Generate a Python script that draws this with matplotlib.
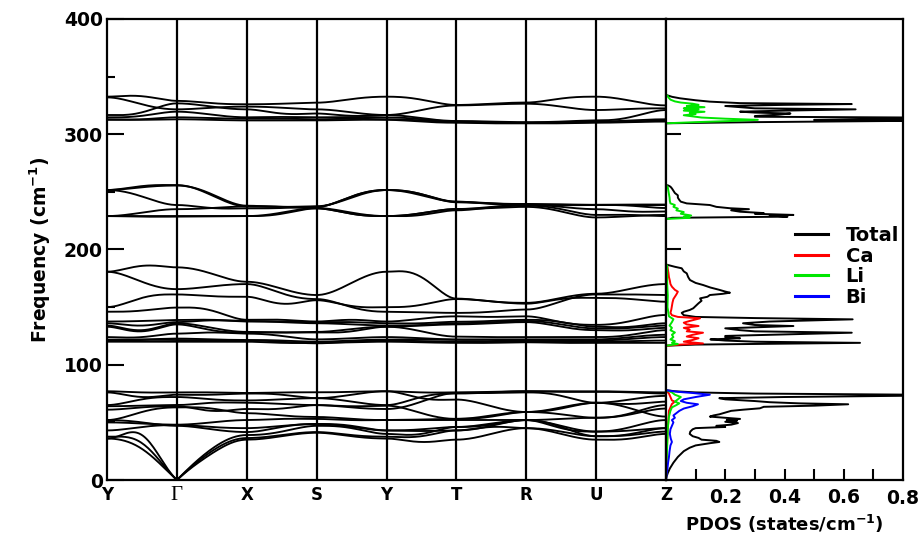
import numpy as np
import matplotlib
matplotlib.use('Agg')
import matplotlib.pyplot as plt

# ---------------- data ----------------
kpath_labels = ['Y', 'Γ', 'X', 'S', 'Y', 'T', 'R', 'U', 'Z']

# each band: values at Y, mid, Γ, mid, X, mid, S, mid, Y, mid, T, mid, R, mid, U, mid, Z
bands_top = [
    [332.6, 333.0, 329.0, 327.0, 326.0, 326.5, 327.4, 330.5, 332.6, 330.0, 325.4, 326.5, 327.5, 331.0, 332.6, 329.0, 325.0],
    [332.0, 326.0, 321.6, 323.0, 324.0, 323.0, 321.6, 319.0, 316.7, 321.0, 325.0, 325.8, 326.5, 324.0, 321.0, 322.0, 322.5],
    [316.7, 319.0, 326.8, 324.0, 321.6, 318.0, 318.0, 316.0, 316.7, 314.0, 311.5, 311.0, 310.5, 311.0, 312.0, 315.0, 321.0],
    [314.7, 316.0, 319.6, 317.0, 314.7, 315.0, 314.7, 315.0, 314.7, 313.0, 311.0, 310.5, 310.0, 310.5, 311.0, 312.0, 313.0],
    [313.0, 313.0, 314.7, 314.0, 313.5, 313.5, 313.0, 313.5, 313.0, 312.0, 310.5, 310.0, 309.8, 310.0, 310.5, 311.0, 312.0],
    [312.5, 312.5, 313.0, 312.5, 312.0, 312.0, 312.0, 312.5, 312.5, 311.0, 310.0, 309.5, 309.5, 309.5, 310.0, 310.5, 311.0],
]

bands_upper = [
    [251.6, 255.0, 255.9, 247.0, 237.4, 237.0, 237.0, 246.0, 251.6, 248.0, 241.5, 239.5, 239.0, 238.5, 238.6, 238.5, 238.6],
    [251.6, 246.0, 238.6, 236.0, 235.7, 236.0, 237.0, 246.0, 251.6, 247.0, 241.5, 240.0, 239.0, 239.0, 238.6, 238.0, 236.0],
    [229.0, 232.0, 235.0, 236.0, 237.4, 237.0, 235.7, 231.0, 229.0, 231.5, 235.1, 237.0, 239.0, 237.0, 235.0, 233.0, 233.0],
    [229.0, 229.0, 229.0, 229.0, 229.0, 231.0, 235.7, 231.0, 229.0, 231.5, 235.1, 236.0, 237.0, 233.0, 227.8, 229.0, 230.0],
    [229.0, 228.5, 228.5, 228.7, 229.0, 232.0, 236.0, 232.0, 229.0, 230.0, 234.0, 236.5, 238.0, 235.0, 230.0, 230.0, 229.0],
    [251.6, 254.0, 255.5, 248.0, 238.0, 237.0, 237.5, 245.0, 251.6, 248.0, 241.0, 240.0, 239.5, 239.0, 238.8, 239.0, 239.0],
]

bands_mid = [
    [180.7, 185.8, 184.5, 179.0, 172.0, 166.0, 160.5, 171.0, 180.7, 176.0, 157.4, 155.0, 153.7, 158.0, 161.6, 166.0, 170.0],
    [180.7, 172.0, 165.6, 168.0, 170.0, 162.0, 157.0, 150.0, 146.0, 145.5, 145.0, 146.0, 147.9, 155.0, 161.0, 161.0, 160.5],
    [150.0, 158.0, 161.0, 159.5, 159.0, 153.0, 156.0, 151.0, 150.0, 152.0, 157.0, 155.0, 153.0, 157.0, 158.0, 157.0, 154.7],
    [146.0, 147.0, 149.6, 147.0, 139.0, 139.0, 137.5, 139.0, 137.5, 140.0, 142.0, 141.5, 142.0, 137.0, 134.6, 138.0, 143.2],
    [137.5, 138.0, 138.8, 139.0, 138.0, 137.5, 137.0, 137.0, 136.0, 136.0, 137.3, 138.0, 139.0, 137.0, 133.0, 133.0, 136.0],
    [136.0, 134.0, 137.0, 138.5, 137.5, 137.0, 136.0, 135.0, 134.0, 134.5, 136.0, 137.0, 138.0, 135.0, 131.5, 132.0, 134.0],
    [134.0, 130.0, 136.0, 132.0, 128.5, 128.0, 128.5, 131.0, 133.0, 134.0, 135.0, 136.0, 137.0, 133.0, 130.0, 130.0, 132.0],
    [133.0, 129.0, 135.0, 130.0, 128.0, 128.0, 128.0, 129.0, 133.0, 129.0, 124.4, 124.0, 124.0, 124.0, 124.0, 126.0, 130.0],
    [124.0, 124.0, 127.0, 128.0, 127.0, 125.0, 122.0, 123.0, 124.0, 123.0, 122.0, 122.0, 122.0, 122.0, 122.0, 124.0, 126.0],
    [121.8, 122.0, 122.7, 122.0, 121.5, 121.0, 120.0, 121.0, 121.8, 122.0, 121.5, 121.5, 121.0, 121.0, 121.0, 122.5, 124.0],
    [121.0, 121.5, 121.5, 121.0, 121.0, 120.0, 118.6, 120.0, 121.0, 120.5, 120.0, 120.0, 120.0, 120.0, 120.0, 120.5, 121.0],
    [120.0, 120.0, 120.0, 120.0, 120.0, 119.0, 119.0, 119.5, 120.0, 119.5, 119.0, 119.0, 119.5, 119.0, 119.0, 119.0, 119.0],
]

bands_low = [
    [77.0, 76.0, 76.0, 76.0, 75.5, 76.0, 76.0, 76.5, 77.0, 76.0, 76.0, 76.5, 77.0, 77.0, 77.0, 76.5, 76.0],
    [76.0, 72.0, 74.0, 74.0, 75.0, 74.0, 71.0, 68.0, 65.0, 72.0, 75.0, 76.0, 77.0, 76.5, 76.5, 76.0, 75.0],
    [65.0, 70.0, 72.0, 70.0, 69.0, 70.0, 71.0, 74.0, 77.0, 71.0, 69.8, 64.0, 59.0, 63.0, 67.0, 70.0, 73.0],
    [64.0, 64.5, 65.0, 67.0, 67.0, 66.0, 65.0, 63.0, 61.6, 68.0, 75.5, 75.5, 76.0, 73.0, 67.0, 66.0, 68.0],
    [61.0, 63.0, 64.0, 60.0, 61.6, 62.0, 65.0, 64.0, 64.5, 58.0, 53.0, 56.0, 59.0, 57.0, 54.0, 58.0, 65.0],
    [52.0, 59.0, 63.0, 62.0, 58.0, 56.0, 54.7, 53.0, 52.0, 52.0, 52.0, 52.0, 52.0, 53.0, 54.0, 57.0, 62.0],
    [50.0, 49.0, 48.0, 50.0, 52.0, 53.0, 53.0, 52.0, 52.0, 52.5, 53.0, 55.0, 59.0, 62.0, 67.0, 62.0, 55.0],
    [43.0, 46.0, 47.7, 46.0, 45.0, 47.0, 48.6, 46.0, 43.0, 44.0, 46.0, 49.0, 52.0, 47.0, 42.0, 46.0, 52.0],
    [52.0, 50.0, 47.0, 44.0, 41.6, 46.0, 48.6, 47.0, 43.0, 42.5, 43.0, 47.0, 52.0, 46.0, 38.0, 40.0, 45.0],
    [37.6, 32.0, 0.0, 25.0, 36.4, 39.0, 41.6, 39.0, 37.6, 38.0, 43.0, 46.0, 45.0, 42.0, 38.0, 39.0, 42.0],
    [36.0, 27.0, 0.0, 23.0, 35.0, 38.0, 41.0, 38.0, 36.0, 33.0, 35.0, 40.0, 45.0, 40.0, 35.0, 36.0, 40.0],
    [36.0, 39.0, 0.0, 27.0, 39.0, 42.0, 47.0, 45.0, 40.0, 40.0, 46.0, 48.0, 52.0, 45.0, 42.0, 43.0, 45.0],
]

# PDOS (frequency in cm^-1, value in states/cm^-1)
total_freq = [0, 3, 6, 10, 15, 20, 25, 28, 30, 32, 33, 34, 35, 36.5, 38, 40, 42, 44, 45, 46, 47, 48, 49.4,
              50.5, 51.5, 52, 53, 54, 55, 56, 57, 58.5, 60, 61, 62.2, 63.5, 64.5, 65.7, 66.5, 67.5, 68.5, 70,
              71, 72, 73.2, 74, 75, 76, 77, 78,
              116.5, 117.5, 119, 120, 121, 122, 123, 124, 125, 126, 127.8, 129, 130, 131.6, 132.5, 133.6,
              134.5, 136, 137.5, 139.4, 140.5, 141.5, 143, 145, 146, 147.5, 149, 151, 153.4, 155.5, 157.6,
              159, 160.5, 161.5, 162.5, 163.5, 165, 167, 169.2, 171, 173.5, 176, 179.3, 181, 183.7, 185,
              186.6, 187,
              226.5, 227.5, 228.5, 229.5, 230, 231, 231.6, 232.8, 234, 235, 235.8, 237, 238.6, 240, 241.5,
              243, 245, 247, 249, 251, 253, 254.5, 255.5, 256,
              309.5, 310.5, 311.7, 312.5, 313.8, 314.5, 315.2, 315.8, 317, 318, 318.8, 319.6, 320.5, 321.6,
              322.5, 323.5, 324.5, 325.5, 326.2, 327, 328.3, 329.5, 331.2, 332.5, 333.5, 334, 400]
total_dos = [0, 0.002, 0.006, 0.013, 0.025, 0.04, 0.06, 0.08, 0.1, 0.15, 0.18, 0.17, 0.12, 0.11, 0.09, 0.08,
             0.082, 0.09, 0.1, 0.2, 0.17, 0.22, 0.243, 0.2, 0.24, 0.205, 0.25, 0.2, 0.148, 0.16, 0.18, 0.2,
             0.22, 0.26, 0.317, 0.33, 0.5, 0.615, 0.45, 0.35, 0.3, 0.2, 0.18, 0.4, 0.85, 0.85, 0.3, 0.1,
             0.03, 0,
             0, 0.1, 0.655, 0.3, 0.2, 0.15, 0.25, 0.2, 0.2, 0.35, 0.627, 0.3, 0.25, 0.2, 0.3, 0.43, 0.3,
             0.26, 0.35, 0.63, 0.3, 0.1, 0.06, 0.053, 0.06, 0.08, 0.092, 0.1, 0.11, 0.12, 0.115, 0.14,
             0.148, 0.19, 0.216, 0.2, 0.18, 0.15, 0.125, 0.1, 0.081, 0.075, 0.07, 0.06, 0.053, 0.03,
             0.007, 0,
             0, 0.02, 0.41, 0.35, 0.43, 0.3, 0.33, 0.25, 0.22, 0.28, 0.216, 0.17, 0.148, 0.07, 0.05,
             0.045, 0.04, 0.04, 0.03, 0.025, 0.02, 0.015, 0.008, 0,
             0, 0.3, 0.85, 0.5, 0.85, 0.85, 0.3, 0.3, 0.38, 0.42, 0.3, 0.25, 0.4, 0.64, 0.3, 0.25, 0.2,
             0.4, 0.627, 0.25, 0.148, 0.1, 0.047, 0.02, 0.008, 0, 0]

ca_freq = [0, 20, 40, 60, 66, 68, 69, 72, 75, 78,
           116.5, 117.5, 118.5, 120, 121.5, 123, 124.5, 126, 127.8, 129, 130.5, 132, 133.6, 135, 136.5,
           138, 140.3, 141.5, 143, 145, 148, 151, 154, 157, 159, 161, 163.4, 165, 167.7, 170, 173, 176,
           180, 183, 185, 187, 400]
ca_dos = [0, 0.002, 0.005, 0.01, 0.02, 0.03, 0.02, 0.015, 0.01, 0,
          0, 0.05, 0.125, 0.06, 0.09, 0.11, 0.07, 0.09, 0.125, 0.07, 0.08, 0.06, 0.11, 0.07, 0.06,
          0.08, 0.115, 0.04, 0.02, 0.015, 0.018, 0.02, 0.022, 0.025, 0.03, 0.035, 0.04, 0.03, 0.02,
          0.015, 0.013, 0.01, 0.008, 0.006, 0.005, 0, 0]

li_freq = [0, 30, 45, 55, 60, 63, 65, 66.5, 68, 70, 72, 74, 76, 78,
           116.5, 118, 119, 120.5, 122, 124, 126, 128, 130, 132, 134, 137, 139.5, 142, 150, 160, 170,
           186, 187,
           226.5, 227.5, 228.5, 229.5, 231, 232.5, 234, 235.5, 237, 238.6, 240, 242, 245, 248, 251,
           254, 256,
           309.5, 310.5, 311.5, 312.5, 313.5, 314.5, 315.5, 316.5, 317.5, 318.5, 319.5, 320.5, 321.6,
           322.5, 323.5, 324.5, 325.5, 326.5, 327.5, 328.5, 330, 332, 333.5, 334, 400]
li_dos = [0, 0.004, 0.006, 0.01, 0.015, 0.02, 0.035, 0.045, 0.03, 0.04, 0.05, 0.03, 0.02, 0,
          0, 0.04, 0.02, 0.03, 0.015, 0.025, 0.02, 0.03, 0.015, 0.02, 0.012, 0.02, 0.025, 0.01, 0.005,
          0.006, 0.004, 0.004, 0,
          0, 0.08, 0.06, 0.085, 0.05, 0.06, 0.035, 0.04, 0.025, 0.03, 0.015, 0.013, 0.012, 0.01,
          0.008, 0.006, 0,
          0, 0.1, 0.22, 0.31, 0.2, 0.12, 0.09, 0.06, 0.1, 0.08, 0.13, 0.06, 0.11, 0.06, 0.13, 0.07,
          0.11, 0.09, 0.05, 0.03, 0.015, 0.008, 0.005, 0, 0]

bi_freq = [0, 5, 10, 15, 20, 25, 30, 33, 36, 40, 44, 47, 50, 52, 54, 56, 58, 60, 62, 64, 65.7, 67,
           68.5, 70, 72, 74, 75.5, 76.5, 77.5, 78, 400]
bi_dos = [0, 0.002, 0.005, 0.007, 0.01, 0.012, 0.015, 0.02, 0.016, 0.013, 0.015, 0.02, 0.025, 0.02,
          0.03, 0.025, 0.035, 0.045, 0.06, 0.09, 0.108, 0.07, 0.05, 0.06, 0.1, 0.148, 0.09, 0.04,
          0.01, 0, 0]

legend_labels = ['Total', 'Ca', 'Li', 'Bi']
dos_colors = ['black', '#ff0000', '#00e600', '#0000ff']


# ---------------- drawing helpers ----------------
def band_curve(vals, n=40):
    xs, ys = [], []
    for seg in range(8):
        a, m, b = vals[2 * seg], vals[2 * seg + 1], vals[2 * seg + 2]
        t = np.linspace(0, 1, n)
        if b == 0 and a != 0:      # acoustic branch ending at Gamma
            s = 1 - t
            y = a * np.sin(np.pi * s / 2) + (m - a * np.sin(np.pi / 4)) * np.sin(np.pi * s) ** 2
        elif a == 0 and b != 0:    # acoustic branch starting at Gamma
            s = t
            y = b * np.sin(np.pi * s / 2) + (m - b * np.sin(np.pi / 4)) * np.sin(np.pi * s) ** 2
        else:
            y = a + (b - a) * (3 * t ** 2 - 2 * t ** 3) + 16 * (m - (a + b) / 2) * t ** 2 * (1 - t) ** 2
        xs.append(seg + t)
        ys.append(y)
    return np.concatenate(xs), np.concatenate(ys)


# ---------------- figure ----------------
W, H = 923, 535
fig = plt.figure(figsize=(W / 100, H / 100), dpi=100)
font = 'DejaVu Sans'
plt.rcParams['font.family'] = font

x0, x1, x2 = 107 / W, 666 / W, 903 / W
yb, yt = 1 - 480 / H, 1 - 19 / H
ax = fig.add_axes([x0, yb, x1 - x0, yt - yb])
ax2 = fig.add_axes([x1, yb, x2 - x1, yt - yb])

for group in (bands_low, bands_mid, bands_upper, bands_top):
    for band in group:
        bx, by = band_curve(band)
        ax.plot(bx, by, color='black', lw=1.35, solid_capstyle='round')

for k in range(1, 8):
    ax.axvline(k, color='black', lw=1.6)

ax.set_xlim(0, 8)
ax.set_ylim(0, 400)
ax.set_xticks(range(9))
ax.set_xticklabels(kpath_labels)
for i, lab in enumerate(ax.get_xticklabels()):
    if kpath_labels[i] == 'Γ':
        lab.set_fontfamily('Liberation Serif')
        lab.set_fontweight('normal')
        lab.set_fontsize(15)
    else:
        lab.set_fontweight('bold')
        lab.set_fontsize(12)
ax.tick_params(axis='x', length=0, pad=4)
ax.set_yticks([0, 100, 200, 300, 400])
ax.set_yticks([50, 150, 250, 350], minor=True)
ax.tick_params(axis='y', which='major', direction='in', length=12, width=1.5, labelsize=13.5, pad=3)
ax.tick_params(axis='y', which='minor', direction='in', length=6, width=1.5)
for lab in ax.get_yticklabels():
    lab.set_fontweight('bold')
ax.set_ylabel('Frequency (cm$^{\\mathbf{-1}}$)', fontsize=13.5, fontweight='bold', labelpad=8)
for sp in ax.spines.values():
    sp.set_linewidth(1.6)

# PDOS panel
series = [(total_freq, total_dos), (ca_freq, ca_dos), (li_freq, li_dos), (bi_freq, bi_dos)]
handles = []
for (fq, dv), col, lab in zip(series, dos_colors, legend_labels):
    h, = ax2.plot(dv, fq, color=col, lw=1.4, label=lab)
    handles.append(h)

ax2.set_xlim(0, 0.8)
ax2.set_ylim(0, 400)
ax2.set_yticks([100, 200, 300])
ax2.set_yticklabels([])
ax2.tick_params(axis='y', direction='in', length=11, width=1.5)
ax2.set_xticks([0.1, 0.2, 0.3, 0.4, 0.5, 0.6, 0.7])
ax2.set_xticklabels(['', '0.2', '', '0.4', '', '0.6', ''])
ax2.tick_params(axis='x', direction='in', length=8, width=1.5, labelsize=13.5, pad=6)
for lab in ax2.get_xticklabels():
    lab.set_fontweight('bold')
ax2.text(0.8, -0.02, '0.8', transform=ax2.get_xaxis_transform(), ha='center', va='top',
         fontsize=13.5, fontweight='bold')
ax2.set_xlabel('PDOS (states/cm$^{\\mathbf{-1}}$)', fontsize=13, fontweight='bold', labelpad=4)
for sp in ax2.spines.values():
    sp.set_linewidth(1.6)

leg = ax2.legend(handles=handles, loc='upper left', bbox_to_anchor=(795 / W, 1 - 226 / H),
                 bbox_transform=fig.transFigure, frameon=False, borderpad=0, borderaxespad=0,
                 handlelength=1.7, handletextpad=0.9, labelspacing=0.08,
                 prop={'family': font, 'weight': 'bold', 'size': 14})
for lh in leg.get_lines():
    lh.set_linewidth(2.2)

fig.savefig('out.png', dpi=100)
